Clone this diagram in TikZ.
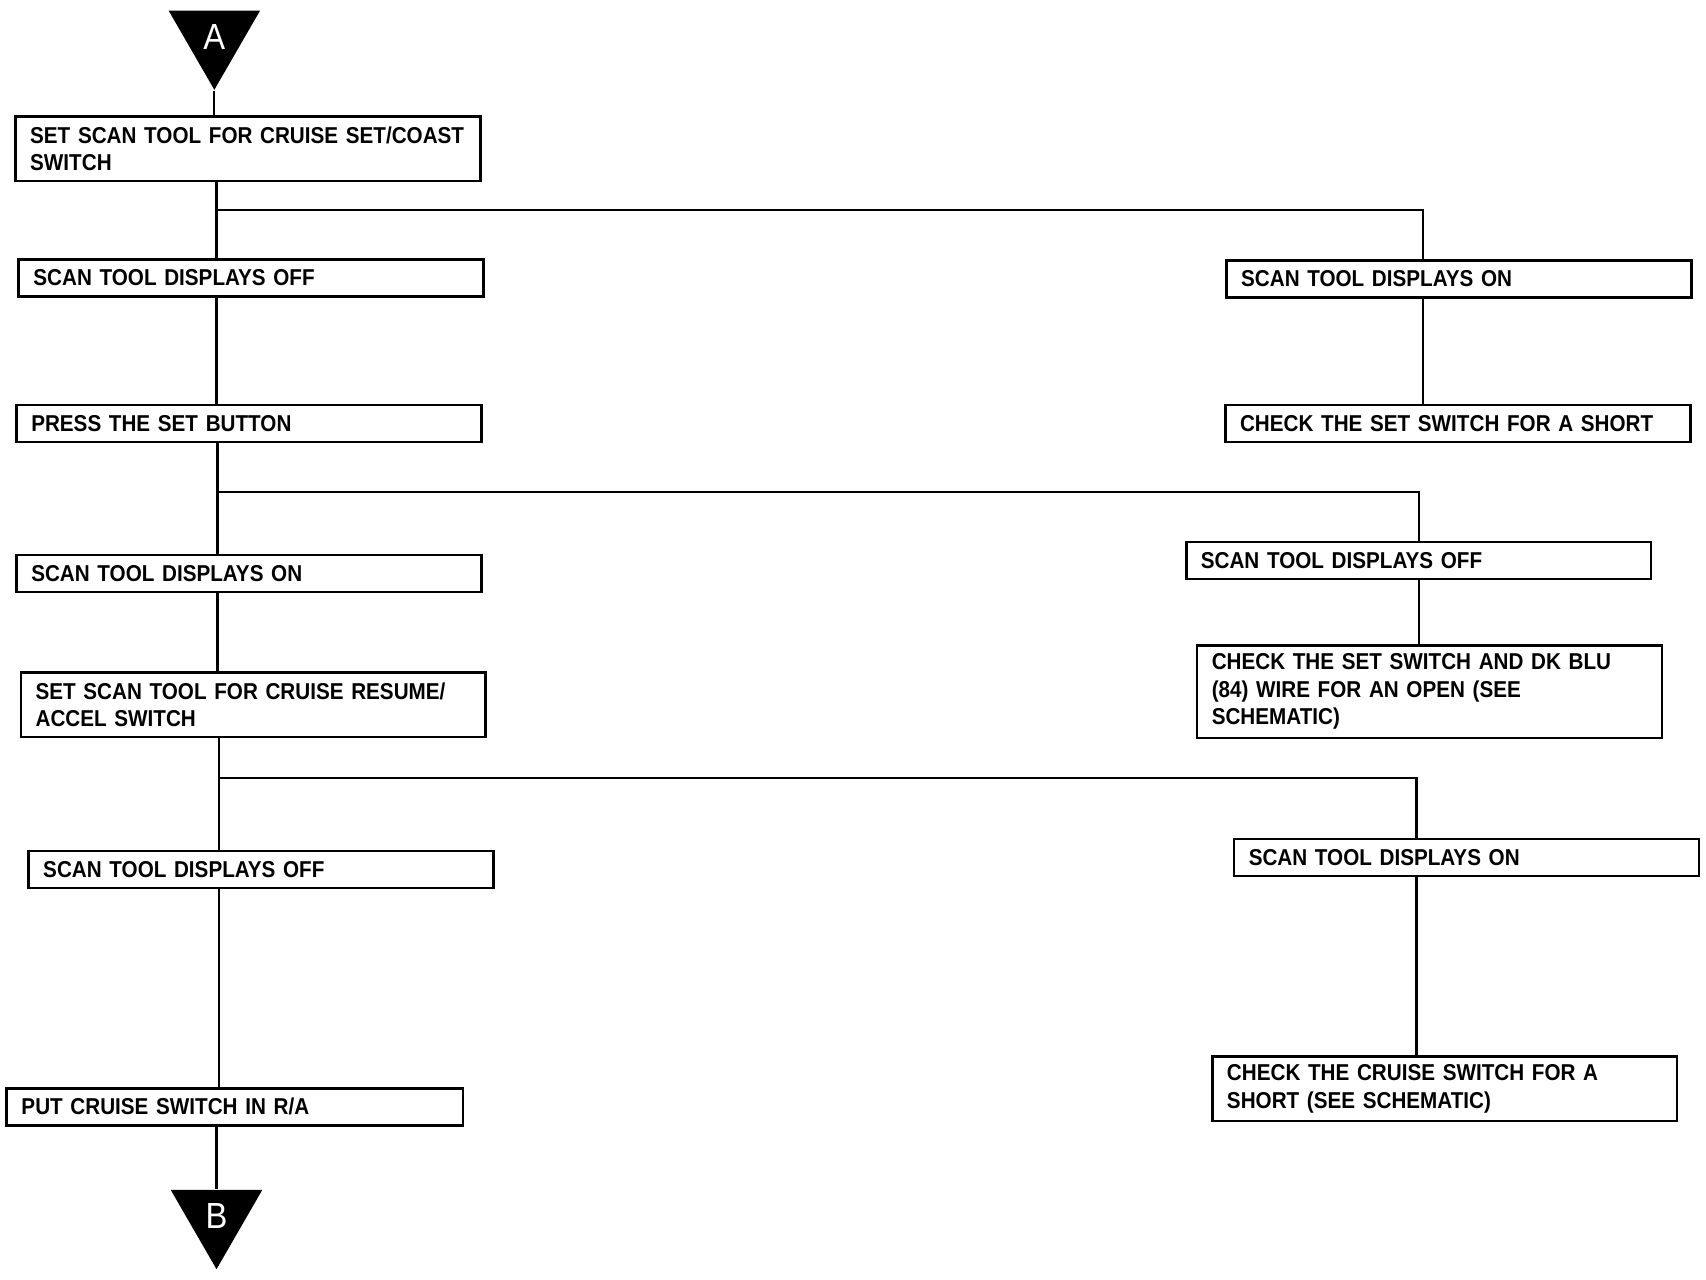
\documentclass[tikz,border=0pt]{standalone}
\usepackage{fontspec}
\usepackage{tikz}
\usetikzlibrary{positioning,shapes.geometric}
\newfontfamily\flowfont[FakeStretch=0.9, WordSpace=0.75]{Liberation Sans}
\tikzset{
  stepbox/.style={draw, line width=0.7pt, rectangle, anchor=north west, align=left,
    text width=4cm, minimum width=4.27cm, minimum height=0.34cm, inner xsep=0.135cm, inner ysep=0pt,
    font=\flowfont\bfseries\fontsize{6}{7.2}\selectfont},
  twoline/.style={minimum height=0.59cm},
  threeline/.style={minimum height=0.85cm},
  marker/.style={regular polygon, regular polygon sides=3, shape border rotate=180, fill=black,
    minimum size=0.97cm, inner sep=0pt, text=white, font=\flowfont\fontsize{9.5}{9.5}\selectfont},
  link/.style={line width=0.6pt}
}
\begin{document}
\begin{tikzpicture}[x=0.01cm, y=-0.01cm]
  \useasboundingbox (0,0) rectangle (1568,1176);

  \node[marker] (triA) at (197,34) {A};

  % left column
  \node[stepbox, twoline] (setcoast) at (13,106) {SET SCAN TOOL FOR CRUISE SET/COAST\\SWITCH};
  \node[stepbox] (offone) at (16,237) {SCAN TOOL DISPLAYS OFF};
  \node[stepbox] (press) at (14,371) {PRESS THE SET BUTTON};
  \node[stepbox] (onone) at (14,509) {SCAN TOOL DISPLAYS ON};
  \node[stepbox, twoline] (resume) at (18,617) {SET SCAN TOOL FOR CRUISE RESUME/\\ACCEL SWITCH};
  \node[stepbox] (offtwo) at (25,781) {SCAN TOOL DISPLAYS OFF};
  \node[stepbox, minimum width=4.19cm, text width=3.92cm, inner xsep=0.08cm] (putra) at (5,999) {PUT CRUISE SWITCH IN R/A};

  \node[marker] (triB) at (199,1118) {B};

  % right column
  \node[stepbox] (onR) at (1126,238) {SCAN TOOL DISPLAYS ON};
  \node[stepbox] (shortR) at (1125,371) {CHECK THE SET SWITCH FOR A SHORT};
  \node[stepbox] (offR) at (1089,497) {SCAN TOOL DISPLAYS OFF};
  \node[stepbox, threeline] (openR) at (1099,592) {CHECK THE SET SWITCH AND DK BLU\\(84) WIRE FOR AN OPEN (SEE\\SCHEMATIC)};
  \node[stepbox] (onRtwo) at (1133,770) {SCAN TOOL DISPLAYS ON};
  \node[stepbox, twoline] (cruiseR) at (1113,970) {CHECK THE CRUISE SWITCH FOR A\\SHORT (SEE SCHEMATIC)};

  \coordinate (j1) at (199,193);
  \coordinate (k1) at (1308,193);
  \coordinate (j2) at (200,452);
  \coordinate (k2) at (1304,452);
  \coordinate (j3) at (201,715);
  \coordinate (k3) at (1302,715);

  \draw[link] (triA.south) -- (triA.south |- setcoast.north);
  \draw[link] (j1 |- setcoast.south) -- (j1 |- offone.north);
  \draw[link] (j1) -- (k1) -- (k1 |- onR.north);
  \draw[link] (k1 |- onR.south) -- (k1 |- shortR.north);
  \draw[link] (j1 |- offone.south) -- (j1 |- press.north);
  \draw[link] (j2 |- press.south) -- (j2 |- onone.north);
  \draw[link] (j2) -- (k2) -- (k2 |- offR.north);
  \draw[link] (k2 |- offR.south) -- (k2 |- openR.north);
  \draw[link] (j2 |- onone.south) -- (j2 |- resume.north);
  \draw[link] (j3 |- resume.south) -- (j3 |- offtwo.north);
  \draw[link] (j3) -- (k3) -- (k3 |- onRtwo.north);
  \draw[link] (k3 |- onRtwo.south) -- (k3 |- cruiseR.north);
  \draw[link] (j3 |- offtwo.south) -- (j3 |- putra.north);
  \draw[link] (triB.north |- putra.south) -- (triB.north);
\end{tikzpicture}
\end{document}
